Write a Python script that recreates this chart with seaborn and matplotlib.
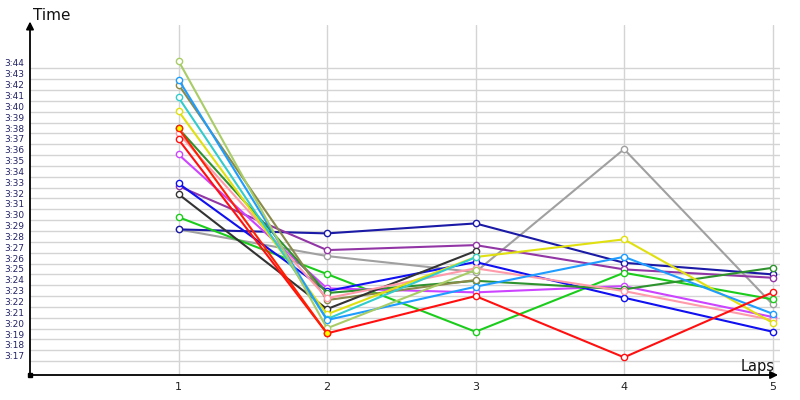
import matplotlib
matplotlib.use("Agg")
import matplotlib.pyplot as plt
import pandas as pd
import seaborn as sns

# ---- data (lap times in seconds) ----
laps = [1, 2, 3, 4, 5]
navy = [208.65, 208.28, 209.2, 205.57, 204.5]
purple = [212.64, 206.74, 207.2, 204.96, 204.19]
gray = [208.65, 206.19, 204.71, 216.05, 201.74]
lime = [209.78, 204.53, 199.21, 204.65, 202.2]
violet = [215.56, 203.21, 202.84, 203.42, 200.57]
blue = [212.89, 202.96, 205.64, 202.35, 199.21]
forest = [217.96, 202.78, 203.91, 203.12, 205.11]
olive = [222.0, 202.13, 203.98, None, None]
black = [211.9, 201.3, 206.65, None, None]
yellow = [219.55, 200.82, 206.1, 207.73, 200.04]
turquoise = [220.82, 200.38, 206.07, None, None]
dodger = [222.47, 200.29, 203.36, 206.12, 200.87]
yellowgreen = [224.19, 199.53, 204.9, None, None]
pink = [217.5, 202.3, 205.06, 202.96, 200.29]
red = [216.94, 199.06, 202.5, 196.85, 202.84]
orange = [217.96, 199.06, None, None, None]

series = {
    "gray": gray, "navy": navy, "purple": purple, "lime": lime,
    "violet": violet, "blue": blue, "forest": forest, "olive": olive,
    "black": black, "pink": pink, "yellow": yellow, "turquoise": turquoise,
    "dodger": dodger, "yellowgreen": yellowgreen, "red": red, "orange": orange,
}
colors = {
    "gray": "#a0a0a0", "navy": "#1a1aa6", "purple": "#9236a6", "lime": "#1ccc1c",
    "violet": "#cc44ff", "blue": "#1010f0", "forest": "#2e922e", "olive": "#8a8a4a",
    "black": "#333333", "pink": "#ff9aaa", "yellow": "#e0e010", "turquoise": "#33cccc",
    "dodger": "#1e9cff", "yellowgreen": "#a8cc66", "red": "#ff1010", "orange": "#ff2000",
}
ytick_secs = list(range(197, 225))

rows = []
for name, vals in series.items():
    for lap, v in zip(laps, vals):
        if v is not None:
            rows.append({"driver": name, "lap": lap, "time": v})
df = pd.DataFrame(rows)

sns.set_theme(style="white")
plt.rcParams["font.family"] = ["DejaVu Sans"]

fig = plt.figure(figsize=(8, 4), dpi=100)
ax = fig.add_axes([0.0375, 0.0625, 0.9375, 0.875])

sns.lineplot(data=df, x="lap", y="time", hue="driver", hue_order=list(series.keys()),
             palette=colors, marker="o", markersize=4.5, linewidth=1.5,
             estimator=None, sort=False, legend=False, ax=ax)
for line, name in zip(ax.lines, series.keys()):
    c = colors[name]
    line.set_markerfacecolor("yellow" if name == "orange" else "white")
    line.set_markeredgecolor(c)
    line.set_markeredgewidth(1.0)
    line.set_clip_on(False)

ax.set_xlim(0, 5.05)
ax.set_ylim(195.22, 227.5)

# grid
ax.set_xticks(laps)
ax.set_xticklabels([str(l) for l in laps], fontsize=8, color="#222222")
ax.set_yticks(ytick_secs)
ax.set_yticklabels([f"{s // 60}:{s % 60:02d}" for s in ytick_secs], fontsize=6.5, color="#222266")
ax.set_yticks([s - 0.5 for s in ytick_secs], minor=True)
ax.tick_params(axis="both", which="both", length=0)
ax.tick_params(axis="x", pad=5)
ax.tick_params(axis="y", pad=4)
ax.grid(False)
ax.yaxis.grid(True, which="minor", color="#d4d4d4", linewidth=1)
ax.xaxis.grid(True, which="major", color="#d4d4d4", linewidth=1)
ax.set_axisbelow(True)
ax.set_xlabel("")
ax.set_ylabel("")
for s in ax.spines.values():
    s.set_visible(False)

# axes with arrows
ax.annotate("", xy=(0, 1.01), xytext=(0, 0), xycoords="axes fraction",
            arrowprops=dict(arrowstyle="-|>", color="black", lw=1.3, mutation_scale=11,
                            shrinkA=0, shrinkB=0))
ax.annotate("", xy=(0.9975, 0), xytext=(0, 0), xycoords="axes fraction",
            arrowprops=dict(arrowstyle="-|>", color="black", lw=1.3, mutation_scale=11,
                            shrinkA=0, shrinkB=0))
ax.plot([0], [0], marker="s", color="black", markersize=3.5, transform=ax.transAxes, clip_on=False)

fig.text(33 / 800, 1 - 15 / 400, "Time", fontsize=11, ha="left", va="center", color="#111111")
fig.text(775 / 800, 1 - 366 / 400, "Laps", fontsize=10.5, ha="right", va="center", color="#111111")

fig.savefig("out.png", dpi=100)
